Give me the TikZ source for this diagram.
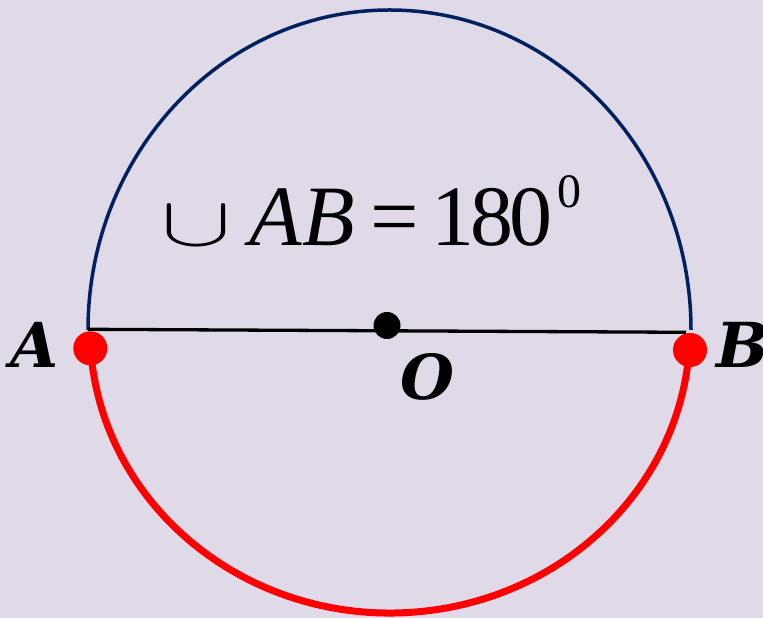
\documentclass[tikz,border=0pt]{standalone}
\usepackage{fontspec}
\usepackage{graphicx}
\setmainfont{Liberation Serif}
\newfontfamily\lblfont{DejaVu Serif}
\definecolor{bgcol}{RGB}{224,218,232}
\definecolor{navy}{RGB}{0,32,96}
\newcommand\placeat[2]{\makebox[0pt][l]{\hspace*{#1}#2}}
\tikzset{
  lbl/.style={inner sep=0pt, anchor=base west, font=\lblfont\bfseries\itshape\fontsize{62}{62}\selectfont},
  dot/.style={circle, inner sep=0pt, minimum size=#1},
  arcline/.style={line width=3.5pt},
}
\begin{document}
\begin{tikzpicture}[x=1pt,y=1pt]
\fill[bgcol] (0,0) rectangle (763,618);
\useasboundingbox (0,0) rectangle (763,618);
% upper (blue) arc
\coordinate (UA) at (88,288);
\draw[navy, arcline] (UA) arc[start angle=180, end angle=0, x radius=301.5pt, y radius=320pt];
% lower (red) arc
\coordinate (RA) at (91.6,258.4);
\draw[red, line width=7pt] (RA) arc[start angle=186, end angle=354, x radius=300pt, y radius=283pt];
% diameter
\coordinate (LA) at (88,288.7);
\coordinate (LB) at (686,285.7);
\draw[black, line width=3.3pt] (LA) -- (LB);
% points
\node[dot=34pt, fill=red] (dA) at (90.3,269.7) {};
\node[dot=34pt, fill=red] (dB) at (690,268) {};
\node[dot=27pt, fill=black] (dO) at (387,292.5) {};
% labels
\node[lbl] (lA) at (10,250) {A};
\node[lbl] (lB) at (716,250) {B};
\node[lbl] (lO) at (400,218) {O};
% formula
\node[inner sep=0pt, anchor=base west, font=\fontsize{86}{86}\selectfont] (eq) at (0,372)
 {\placeat{161pt}{\scalebox{10.5}[7]{\normalsize$\cup$}}%
  \placeat{249pt}{\itshape AB}%
  \placeat{370pt}{=}%
  \placeat{430.5pt}{1\kern-4pt 8\kern-4pt 0}%
  \placeat{557pt}{\raisebox{38pt}{\fontsize{48}{48}\selectfont 0}}};
\end{tikzpicture}
\end{document}
